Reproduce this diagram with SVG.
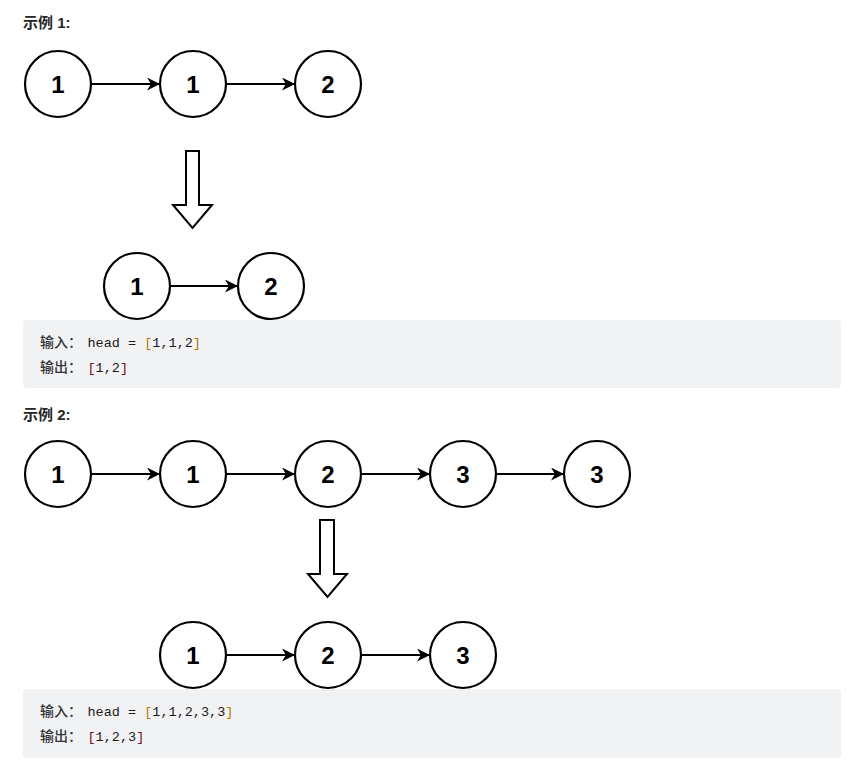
<svg xmlns="http://www.w3.org/2000/svg" width="850" height="771" viewBox="0 0 850 771">
<style>
.node circle{fill:#fff;stroke:#000;stroke-width:2.2}
.node text{font-family:"Liberation Sans",Arial,sans-serif;font-weight:bold;font-size:24px;text-anchor:middle;fill:#000}
.conn line{stroke:#000;stroke-width:2}
.big{fill:#fff;stroke:#000;stroke-width:2;stroke-linejoin:miter}
.title{font-family:"Liberation Sans","Noto Sans CJK SC",sans-serif;font-weight:bold;font-size:15px;fill:#262626}
.box{fill:#f1f2f4}
.cn{font-family:"Noto Sans CJK SC",sans-serif;font-size:14px;fill:#333;font-weight:500}
.code{font-family:"Liberation Mono",monospace;font-size:13.5px;fill:#1a1a1a}
.b1{fill:#b07d00}
.b2{fill:#7a1010}
</style>
<defs>
<marker id="ah" viewBox="0 0 10 10" refX="10" refY="5" markerWidth="6.5" markerHeight="6.5" orient="auto" markerUnits="strokeWidth">
<path d="M0,0 L10,5 L0,10 L3,5 Z" fill="#000"/>
</marker>
</defs>

<!-- Example 1 -->
<text class="title" x="23" y="28">示例 1:</text>
<g id="e1n1" class="node"><circle cx="58" cy="84" r="33"/><text x="58" y="93">1</text></g>
<g id="e1n2" class="node"><circle cx="193" cy="84" r="33"/><text x="193" y="93">1</text></g>
<g id="e1n3" class="node"><circle cx="328" cy="84" r="33"/><text x="328" y="93">2</text></g>
<g id="e1arrow"><polygon class="big" points="186,151 199,151 199,205 212,205 192.5,228 173,205 186,205"/></g>
<g id="e1r1" class="node"><circle cx="137" cy="286" r="33"/><text x="137" y="295">1</text></g>
<g id="e1r2" class="node"><circle cx="271" cy="286" r="33"/><text x="271" y="295">2</text></g>

<!-- Example 2 -->
<text class="title" x="23" y="420">示例 2:</text>
<g id="e2n1" class="node"><circle cx="58" cy="474" r="33"/><text x="58" y="483">1</text></g>
<g id="e2n2" class="node"><circle cx="193" cy="474" r="33"/><text x="193" y="483">1</text></g>
<g id="e2n3" class="node"><circle cx="328" cy="474" r="33"/><text x="328" y="483">2</text></g>
<g id="e2n4" class="node"><circle cx="463" cy="474" r="33"/><text x="463" y="483">3</text></g>
<g id="e2n5" class="node"><circle cx="597" cy="474" r="33"/><text x="597" y="483">3</text></g>
<g id="e2arrow"><polygon class="big" points="320,520 334,520 334,574 347,574 327.5,597 308,574 320,574"/></g>
<g id="e2r1" class="node"><circle cx="193" cy="655" r="33"/><text x="193" y="664">1</text></g>
<g id="e2r2" class="node"><circle cx="328" cy="655" r="33"/><text x="328" y="664">2</text></g>
<g id="e2r3" class="node"><circle cx="463" cy="655" r="33"/><text x="463" y="664">3</text></g>

<g id="connectors" class="conn">
<line x1="91" y1="84" x2="160" y2="84" marker-end="url(#ah)"/>
<line x1="226" y1="84" x2="295" y2="84" marker-end="url(#ah)"/>
<line x1="170" y1="286" x2="238" y2="286" marker-end="url(#ah)"/>
<line x1="91" y1="474" x2="160" y2="474" marker-end="url(#ah)"/>
<line x1="226" y1="474" x2="295" y2="474" marker-end="url(#ah)"/>
<line x1="361" y1="474" x2="430" y2="474" marker-end="url(#ah)"/>
<line x1="496" y1="474" x2="564" y2="474" marker-end="url(#ah)"/>
<line x1="226" y1="655" x2="295" y2="655" marker-end="url(#ah)"/>
<line x1="361" y1="655" x2="430" y2="655" marker-end="url(#ah)"/>
</g>

<!-- Code boxes -->
<g id="code1">
<rect class="box" x="23" y="320" width="818" height="68" rx="4"/>
<text class="cn" x="40" y="347">输入：</text>
<text class="code" x="87.5" y="347">head = <tspan class="b1">[</tspan>1,1,2<tspan class="b1">]</tspan></text>
<text class="cn" x="40" y="372">输出：</text>
<text class="code" x="87.5" y="372"><tspan class="b2">[</tspan>1,2<tspan class="b2">]</tspan></text>
</g>
<g id="code2">
<rect class="box" x="23" y="689" width="818" height="69" rx="4"/>
<text class="cn" x="40" y="716">输入：</text>
<text class="code" x="87.5" y="716">head = <tspan class="b1">[</tspan>1,1,2,3,3<tspan class="b1">]</tspan></text>
<text class="cn" x="40" y="741">输出：</text>
<text class="code" x="87.5" y="741"><tspan class="b2">[</tspan>1,2,3<tspan class="b2">]</tspan></text>
</g>
</svg>
